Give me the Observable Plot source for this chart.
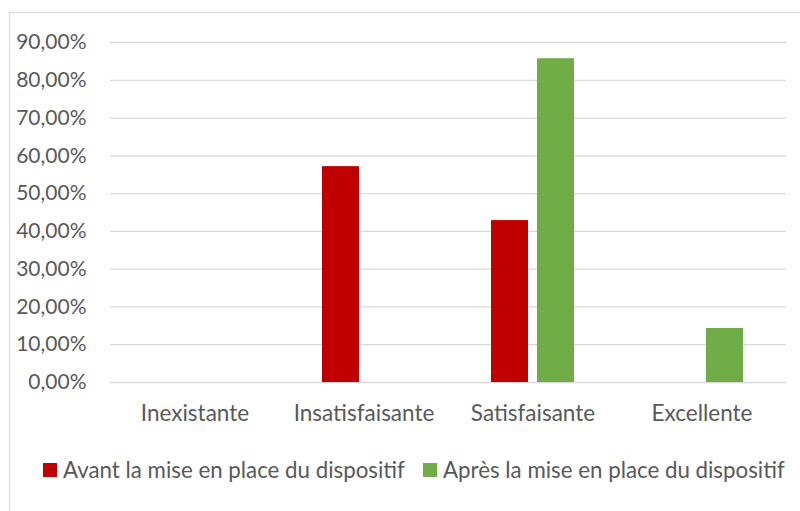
<!DOCTYPE html>
<html>
<head>
<meta charset="utf-8">
<script src="https://cdn.jsdelivr.net/npm/d3@7"></script>
<script src="https://cdn.jsdelivr.net/npm/@observablehq/plot@0.6"></script>
<style>
  html, body { margin: 0; padding: 0; background: #fff; }
  #wrap { position: relative; width: 800px; height: 511px; overflow: hidden; font-family: Lato, sans-serif; }
  #frame { position: absolute; left: 9px; top: 12px; width: 820px; height: 540px; border: 1px solid #d9d9d9; box-sizing: border-box; }
  #chart { position: absolute; left: 0; top: 0; }
  #legend { position: absolute; left: 0; top: 455px; width: 800px; height: 30px; color: #595959; font-size: 22.3px; }
  .item { position: absolute; top: 0; height: 30px; line-height: 30px; white-space: nowrap; }
  .sw { position: absolute; top: 8px; width: 14px; height: 14px; }
  .lbl { position: absolute; left: 20px; top: 0; }
</style>
</head>
<body>
<div id="wrap">
  <div id="frame"></div>
  <div id="chart"></div>
  <div id="legend"></div>
</div>
<script>
const categories = ["Inexistante", "Insatisfaisante", "Satisfaisante", "Excellente"];
const series = ["Avant la mise en place du dispositif", "Après la mise en place du dispositif"];
const avant = [0, 57.14, 42.86, 0];
const apres = [0, 0, 85.71, 14.29];
const yTicks = [0, 10, 20, 30, 40, 50, 60, 70, 80, 90];
const colors = ["#C00000", "#70AD47"];

const rows = [];
categories.forEach((c, i) => {
  rows.push({cat: c, series: series[0], value: avant[i]});
  rows.push({cat: c, series: series[1], value: apres[i]});
});

const fmt = d => d.toFixed(2).replace(".", ",") + "%";

const chart = Plot.plot({
  width: 800,
  height: 445,
  marginTop: 42,
  marginBottom: 63,
  marginLeft: 108,
  marginRight: 13,
  style: {fontFamily: "Lato, sans-serif", fontSize: "21px", color: "#595959", background: "transparent", overflow: "visible"},
  fx: {domain: categories, padding: 0, label: null, axis: null},
  x: {domain: series, paddingInner: 0.1915, paddingOuter: 0.9016, axis: null},
  y: {domain: [0, 90], label: null, axis: null},
  color: {domain: series, range: colors},
  marks: [
    Plot.ruleY(yTicks, {stroke: "#d9d9d9", strokeWidth: 1.3}),
    Plot.barY(rows, {fx: "cat", x: "series", y: "value", fill: "series"}),
    Plot.axisY({anchor: "left", ticks: yTicks, tickFormat: fmt, label: null, tickSize: 0, tickPadding: 24, fontSize: 21, fill: "#595959"}),
    Plot.axisFx({anchor: "bottom", label: null, tickSize: 0, tickPadding: 23, fontSize: 22.5, fill: "#595959"})
  ]
});
document.getElementById("chart").appendChild(chart);

const legend = document.getElementById("legend");
const lefts = [43, 423];
series.forEach((s, i) => {
  const it = document.createElement("div");
  it.className = "item";
  it.style.left = lefts[i] + "px";
  const sw = document.createElement("div");
  sw.className = "sw";
  sw.style.background = colors[i];
  const lb = document.createElement("div");
  lb.className = "lbl";
  lb.textContent = s;
  it.appendChild(sw);
  it.appendChild(lb);
  legend.appendChild(it);
});
</script>
</body>
</html>
